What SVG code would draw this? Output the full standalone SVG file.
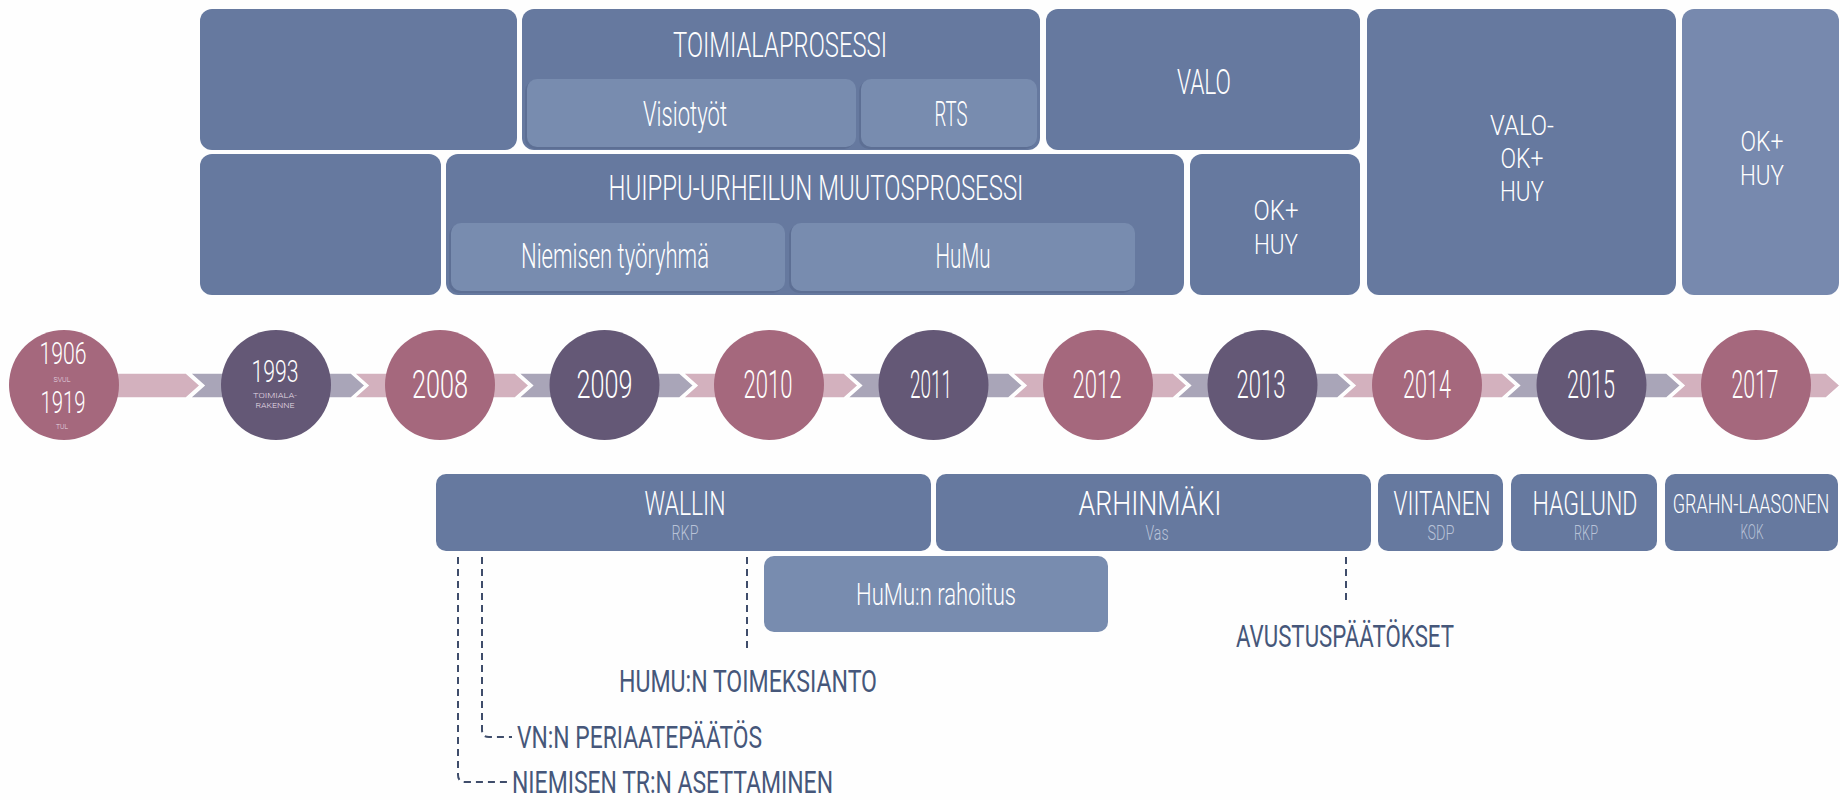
<svg xmlns="http://www.w3.org/2000/svg" width="1840" height="800" viewBox="0 0 1840 800">
  <style>
    text { font-family: "Roboto", "Liberation Sans", sans-serif; font-weight: 300; text-anchor: middle; }
    .box { fill: #66799F; }
    .box-light { fill: #7789AE; }
    .inner { fill: #788CAF; }
    .inner-shadow { fill: #5D6F94; }
    .title { fill: #FFFFFF; font-size: 35px; }
    .label { fill: #FFFFFF; font-size: 31px; }
    .stack { fill: #FFFFFF; font-size: 28px; }
    .name { fill: #FFFFFF; font-size: 34px; }
    .name-small { fill: #FFFFFF; font-size: 25px; }
    .party { fill: #B9C3D8; font-size: 20px; }
    .year { fill: #FFFFFF; font-size: 38px; }
    .year-small { fill: #FFFFFF; font-size: 31px; }
    .tiny { fill: #E6DDE6; font-size: 8px; }
    .pink { fill: #A5687D; }
    .plum { fill: #645876; }
    .band-pink { fill: #D3B1BE; stroke: #FFFFFF; stroke-width: 1.5; }
    .band-plum { fill: #A9A5B8; stroke: #FFFFFF; stroke-width: 1.5; }
    .event { fill: #46577A; font-size: 32px; font-weight: 400; }
    .event-start { text-anchor: start; }
    .leader { fill: none; stroke: #3F4D6B; stroke-width: 2; stroke-dasharray: 7 5; }
  </style>
  <rect width="1840" height="800" fill="#FEFEFE"/>

  <!-- process boxes, upper row -->
  <g id="box-early-top">
    <rect class="box" x="200" y="9" width="317" height="141" rx="12"/>
  </g>
  <g id="box-toimialaprosessi">
    <rect class="box" x="522" y="9" width="518" height="141" rx="12"/>
    <text class="title" x="780" y="57" textLength="214" lengthAdjust="spacingAndGlyphs">TOIMIALAPROSESSI</text>
    <rect class="inner-shadow" x="525" y="81" width="329" height="68" rx="10"/>
    <rect class="inner" x="527" y="79" width="329" height="68" rx="10"/>
    <text class="title" x="685" y="126" textLength="84" lengthAdjust="spacingAndGlyphs">Visiotyöt</text>
    <rect class="inner-shadow" x="859" y="81" width="176" height="68" rx="10"/>
    <rect class="inner" x="861" y="79" width="176" height="68" rx="10"/>
    <text class="title" x="951" y="126" textLength="33" lengthAdjust="spacingAndGlyphs">RTS</text>
  </g>
  <g id="box-valo">
    <rect class="box" x="1046" y="9" width="314" height="141" rx="12"/>
    <text class="title" x="1204" y="94" textLength="54" lengthAdjust="spacingAndGlyphs">VALO</text>
  </g>
  <g id="box-valo-ok-huy">
    <rect class="box" x="1367" y="9" width="309" height="286" rx="12"/>
    <text class="stack" x="1522" y="135" textLength="64" lengthAdjust="spacingAndGlyphs">VALO-</text>
    <text class="stack" x="1522" y="168" textLength="43" lengthAdjust="spacingAndGlyphs">OK+</text>
    <text class="stack" x="1522" y="201" textLength="44" lengthAdjust="spacingAndGlyphs">HUY</text>
  </g>
  <g id="box-ok-huy-2017">
    <rect class="box-light" x="1682" y="9" width="157" height="286" rx="12"/>
    <text class="stack" x="1762" y="151" textLength="43" lengthAdjust="spacingAndGlyphs">OK+</text>
    <text class="stack" x="1762" y="185" textLength="44" lengthAdjust="spacingAndGlyphs">HUY</text>
  </g>

  <!-- process boxes, lower row -->
  <g id="box-early-bottom">
    <rect class="box" x="200" y="154" width="241" height="141" rx="12"/>
  </g>
  <g id="box-huippu-urheilu">
    <rect class="box" x="446" y="154" width="738" height="141" rx="12"/>
    <text class="title" x="816" y="200" textLength="415" lengthAdjust="spacingAndGlyphs">HUIPPU-URHEILUN MUUTOSPROSESSI</text>
    <rect class="inner-shadow" x="449" y="225" width="334" height="68" rx="10"/>
    <rect class="inner" x="451" y="223" width="334" height="68" rx="10"/>
    <text class="title" x="615" y="268" textLength="188" lengthAdjust="spacingAndGlyphs">Niemisen työryhmä</text>
    <rect class="inner-shadow" x="789" y="225" width="344" height="68" rx="10"/>
    <rect class="inner" x="791" y="223" width="344" height="68" rx="10"/>
    <text class="title" x="963" y="268" textLength="55" lengthAdjust="spacingAndGlyphs">HuMu</text>
  </g>
  <g id="box-ok-huy-2013">
    <rect class="box" x="1190" y="154" width="170" height="141" rx="12"/>
    <text class="stack" x="1276" y="220" textLength="45" lengthAdjust="spacingAndGlyphs">OK+</text>
    <text class="stack" x="1276" y="254" textLength="44" lengthAdjust="spacingAndGlyphs">HUY</text>
  </g>

  <!-- timeline band: chevron pieces behind the year circles -->
  <g id="timeline-band">
    <polygon class="band-pink" points="64,373 186,373 200,385.5 186,398 64,398"/>
    <polygon class="band-plum" points="190,373 351,373 365,385.5 351,398 190,398 204,385.5"/>
    <polygon class="band-pink" points="354,373 515,373 529,385.5 515,398 354,398 368,385.5"/>
    <polygon class="band-plum" points="518.5,373 679.5,373 693.5,385.5 679.5,398 518.5,398 532.5,385.5"/>
    <polygon class="band-pink" points="683,373 844,373 858,385.5 844,398 683,398 697,385.5"/>
    <polygon class="band-plum" points="847.5,373 1008.5,373 1022.5,385.5 1008.5,398 847.5,398 861.5,385.5"/>
    <polygon class="band-pink" points="1012,373 1173,373 1187,385.5 1173,398 1012,398 1026,385.5"/>
    <polygon class="band-plum" points="1176.5,373 1337.5,373 1351.5,385.5 1337.5,398 1176.5,398 1190.5,385.5"/>
    <polygon class="band-pink" points="1341,373 1502,373 1516,385.5 1502,398 1341,398 1355,385.5"/>
    <polygon class="band-plum" points="1505.5,373 1666.5,373 1680.5,385.5 1666.5,398 1505.5,398 1519.5,385.5"/>
    <polygon class="band-pink" points="1670,373 1826,373 1840,385.5 1826,398 1670,398 1684,385.5"/>
  </g>

  <!-- year circles -->
  <g id="year-1906-1919">
    <circle class="pink" cx="64" cy="385" r="55"/>
    <text class="year-small" x="63" y="364" textLength="47" lengthAdjust="spacingAndGlyphs">1906</text>
    <text class="tiny" x="62" y="382" textLength="17" lengthAdjust="spacingAndGlyphs">SVUL</text>
    <text class="year-small" x="63" y="413" textLength="45" lengthAdjust="spacingAndGlyphs">1919</text>
    <text class="tiny" x="62" y="429" textLength="12" lengthAdjust="spacingAndGlyphs">TUL</text>
  </g>
  <g id="year-1993">
    <circle class="plum" cx="276" cy="385" r="55"/>
    <text class="year-small" x="275" y="382" textLength="47" lengthAdjust="spacingAndGlyphs">1993</text>
    <text class="tiny" x="275" y="398" textLength="44" lengthAdjust="spacingAndGlyphs">TOIMIALA-</text>
    <text class="tiny" x="275" y="408" textLength="39" lengthAdjust="spacingAndGlyphs">RAKENNE</text>
  </g>
  <g id="year-2008">
    <circle class="pink" cx="440" cy="385" r="55"/>
    <text class="year" x="440" y="398" textLength="56" lengthAdjust="spacingAndGlyphs">2008</text>
  </g>
  <g id="year-2009">
    <circle class="plum" cx="604.5" cy="385" r="55"/>
    <text class="year" x="604.5" y="398" textLength="56" lengthAdjust="spacingAndGlyphs">2009</text>
  </g>
  <g id="year-2010">
    <circle class="pink" cx="769" cy="385" r="55"/>
    <text class="year" x="768" y="398" textLength="49" lengthAdjust="spacingAndGlyphs">2010</text>
  </g>
  <g id="year-2011">
    <circle class="plum" cx="933.5" cy="385" r="55"/>
    <text class="year" x="931" y="398" textLength="42" lengthAdjust="spacingAndGlyphs">2011</text>
  </g>
  <g id="year-2012">
    <circle class="pink" cx="1098" cy="385" r="55"/>
    <text class="year" x="1097" y="398" textLength="49" lengthAdjust="spacingAndGlyphs">2012</text>
  </g>
  <g id="year-2013">
    <circle class="plum" cx="1262.5" cy="385" r="55"/>
    <text class="year" x="1261" y="398" textLength="49" lengthAdjust="spacingAndGlyphs">2013</text>
  </g>
  <g id="year-2014">
    <circle class="pink" cx="1427" cy="385" r="55"/>
    <text class="year" x="1427" y="398" textLength="48" lengthAdjust="spacingAndGlyphs">2014</text>
  </g>
  <g id="year-2015">
    <circle class="plum" cx="1591.5" cy="385" r="55"/>
    <text class="year" x="1591" y="398" textLength="48" lengthAdjust="spacingAndGlyphs">2015</text>
  </g>
  <g id="year-2017">
    <circle class="pink" cx="1756" cy="385" r="55"/>
    <text class="year" x="1755" y="398" textLength="47" lengthAdjust="spacingAndGlyphs">2017</text>
  </g>

  <!-- ministers -->
  <g id="minister-wallin">
    <rect class="box" x="436" y="474" width="495" height="77" rx="10"/>
    <text class="name" x="685" y="515" textLength="81" lengthAdjust="spacingAndGlyphs">WALLIN</text>
    <text class="party" x="685" y="540" textLength="27" lengthAdjust="spacingAndGlyphs">RKP</text>
  </g>
  <g id="minister-arhinmaki">
    <rect class="box" x="936" y="474" width="435" height="77" rx="10"/>
    <text class="name" x="1150" y="515" textLength="143" lengthAdjust="spacingAndGlyphs">ARHINMÄKI</text>
    <text class="party" x="1157" y="540" textLength="23" lengthAdjust="spacingAndGlyphs">Vas</text>
  </g>
  <g id="minister-viitanen">
    <rect class="box" x="1378" y="474" width="125" height="77" rx="10"/>
    <text class="name" x="1442" y="515" textLength="97" lengthAdjust="spacingAndGlyphs">VIITANEN</text>
    <text class="party" x="1441" y="540" textLength="27" lengthAdjust="spacingAndGlyphs">SDP</text>
  </g>
  <g id="minister-haglund">
    <rect class="box" x="1511" y="474" width="146" height="77" rx="10"/>
    <text class="name" x="1585" y="515" textLength="105" lengthAdjust="spacingAndGlyphs">HAGLUND</text>
    <text class="party" x="1586" y="540" textLength="24" lengthAdjust="spacingAndGlyphs">RKP</text>
  </g>
  <g id="minister-grahn-laasonen">
    <rect class="box" x="1665" y="474" width="173" height="77" rx="10"/>
    <!-- horizontally condensed so the long name fits the narrow box -->
    <text class="name-small" transform="translate(1751 513) scale(0.72 1)">GRAHN-LAASONEN</text>
    <text class="party" x="1752" y="539" textLength="23" lengthAdjust="spacingAndGlyphs">KOK</text>
  </g>
  <g id="box-humu-rahoitus">
    <rect class="inner" x="764" y="556" width="344" height="76" rx="10"/>
    <text class="label" x="936" y="605" textLength="160" lengthAdjust="spacingAndGlyphs">HuMu:n rahoitus</text>
  </g>

  <!-- event labels -->
  <g id="event-humu-toimeksianto">
    <text class="event" x="748" y="692" textLength="258" lengthAdjust="spacingAndGlyphs">HUMU:N TOIMEKSIANTO</text>
  </g>
  <g id="event-vn-periaatepaatos">
    <text class="event event-start" x="517" y="748" textLength="245" lengthAdjust="spacingAndGlyphs">VN:N PERIAATEPÄÄTÖS</text>
  </g>
  <g id="event-niemisen-tr">
    <text class="event event-start" x="512" y="793" textLength="321" lengthAdjust="spacingAndGlyphs">NIEMISEN TR:N ASETTAMINEN</text>
  </g>
  <g id="event-avustuspaatokset">
    <text class="event" x="1345" y="647" textLength="218" lengthAdjust="spacingAndGlyphs">AVUSTUSPÄÄTÖKSET</text>
  </g>

  <!-- dashed leaders from minister terms to events -->
  <g id="connectors">
    <path class="leader" d="M458 557 V775 Q458 782 465 782 H509"/>
    <path class="leader" d="M482 557 V730 Q482 737 489 737 H512"/>
    <path class="leader" d="M747 557 V652"/>
    <path class="leader" d="M1346 557 V605"/>
  </g>
</svg>
